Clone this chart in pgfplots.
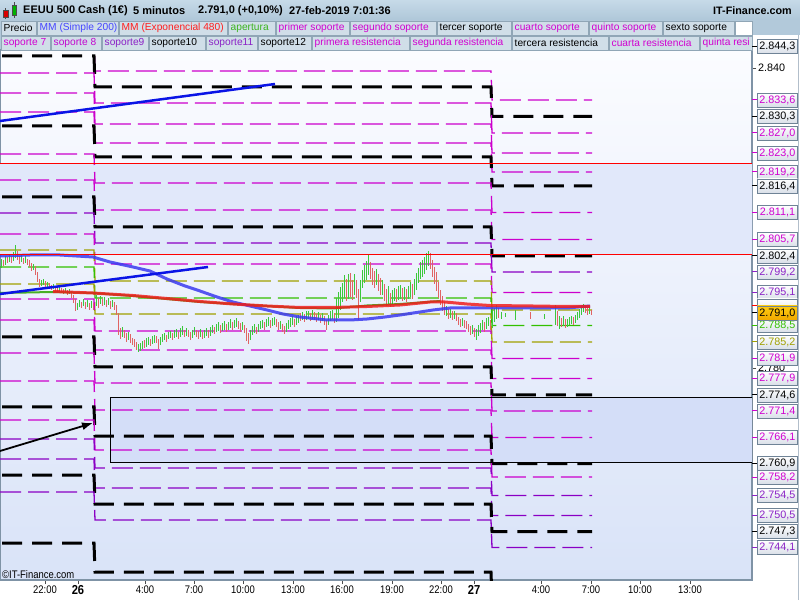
\documentclass[border=0pt]{standalone}
\usepackage{fontspec}
\setmainfont{Liberation Sans}
\newfontfamily\narrowfont[FakeStretch=0.86]{Liberation Sans}
\usepackage{pgfplots}
\usepackage{pgfplotstable}
\pgfplotsset{compat=1.18}
\usetikzlibrary{arrows.meta}

\definecolor{mag}{HTML}{CC00CC}
\definecolor{pur}{HTML}{8A00C4}
\definecolor{oli}{HTML}{A0A000}
\definecolor{grn}{HTML}{33C000}
\definecolor{cgreen}{HTML}{3CC83C}
\definecolor{cred}{HTML}{E06464}
\definecolor{frame}{HTML}{7F93A6}
\definecolor{hdrtop}{HTML}{C6DAE8}
\definecolor{hdrbot}{HTML}{AFC7D9}
\definecolor{hdr}{HTML}{B2C9DA}
\definecolor{hdrbox}{HTML}{D0DEE8}
\definecolor{hbord}{HTML}{90A6B6}
\definecolor{bgtop}{HTML}{FBFCFF}
\definecolor{bgbot}{HTML}{D9E3F8}
\definecolor{band}{HTML}{E1E8FA}
\definecolor{rectc}{HTML}{D4DEF8}
\definecolor{mablue}{HTML}{3A3AF0}
\definecolor{tlblue}{HTML}{0A14E6}
\definecolor{mared}{HTML}{F01E1E}
\definecolor{lblbot}{HTML}{D9DFE8}
\definecolor{lblframe}{HTML}{6F8396}
\definecolor{lmag}{HTML}{D000D0}
\definecolor{lpur}{HTML}{8B22C6}
\definecolor{hblue}{HTML}{4646FF}
\definecolor{hred}{HTML}{FF1E1E}
\definecolor{hgreen}{HTML}{3CB41E}
\definecolor{priceA}{HTML}{FFCC10}
\definecolor{priceB}{HTML}{F0A800}

% candles: x, low, high
\pgfplotstableread{
x lo hi
1 2800.0 2801.8
5 2800.6 2802.4
9 2801.2 2802.6
13 2801.4 2803.2
15 2802.0 2804.6
21 2801.2 2802.6
25 2801.0 2802.4
33 2799.6 2800.8
41 2796.4 2797.6
43 2796.6 2797.8
47 2796.2 2797.2
53 2795.8 2796.8
59 2795.4 2796.4
65 2795.0 2796.0
69 2794.8 2795.8
77 2791.6 2793.0
79 2792.2 2793.6
83 2792.4 2793.8
87 2792.2 2793.6
91 2792.0 2793.4
96 2792.4 2794.6
100 2792.8 2794.4
104 2792.6 2794.2
108 2792.6 2794.0
112 2792.2 2793.6
122 2786.2 2788.2
128 2785.6 2787.2
138 2783.2 2784.8
140 2783.4 2785.0
142 2783.8 2785.4
146 2784.2 2786.0
148 2784.6 2786.2
152 2784.8 2786.4
154 2785.0 2786.6
160 2784.6 2786.2
162 2785.2 2786.8
164 2785.6 2787.0
168 2785.8 2787.2
170 2786.0 2787.4
174 2786.0 2787.6
176 2786.2 2787.8
180 2786.2 2788.0
182 2786.6 2788.4
186 2786.4 2788.0
192 2786.0 2787.6
194 2786.6 2788.2
200 2786.2 2787.8
204 2786.0 2787.6
206 2786.4 2788.0
210 2786.4 2788.2
212 2787.0 2788.6
216 2787.2 2788.8
218 2787.4 2789.2
222 2787.4 2789.0
224 2787.6 2789.4
228 2787.6 2789.2
230 2788.0 2789.8
234 2788.0 2789.6
236 2788.2 2790.0
242 2787.6 2789.2
250 2785.6 2787.6
252 2786.6 2788.4
254 2787.0 2788.8
258 2787.2 2788.8
260 2787.8 2789.4
262 2788.0 2789.6
266 2788.2 2789.8
268 2788.4 2790.2
272 2788.4 2790.0
274 2788.6 2790.2
280 2787.8 2789.4
286 2787.2 2789.0
288 2787.8 2789.6
290 2788.2 2790.0
292 2788.6 2790.4
296 2788.6 2790.4
298 2789.0 2790.6
302 2789.6 2791.2
306 2789.6 2791.4
308 2789.8 2791.4
312 2789.8 2791.6
318 2789.6 2791.2
322 2789.4 2791.0
328 2788.6 2790.6
330 2789.4 2791.4
332 2789.8 2791.6
336 2789.2 2794.0
338 2790.0 2795.2
340 2791.6 2796.2
342 2793.2 2797.0
344 2794.0 2798.6
348 2793.8 2798.8
354 2794.6 2798.8
360 2793.2 2797.6
362 2796.0 2799.6
364 2797.0 2800.6
366 2797.6 2801.4
368 2798.6 2802.6
376 2796.6 2799.8
382 2794.6 2797.6
388 2792.8 2796.4
392 2792.8 2795.6
394 2793.4 2796.0
398 2793.6 2796.4
400 2793.8 2796.6
404 2793.6 2796.2
408 2793.8 2796.4
410 2794.2 2797.2
414 2794.6 2797.8
416 2795.6 2799.0
418 2797.0 2800.0
420 2797.8 2801.2
422 2798.2 2801.6
424 2798.8 2802.2
426 2799.6 2803.0
428 2800.4 2803.4
446 2790.4 2792.4
450 2790.0 2791.8
454 2789.8 2791.4
462 2788.4 2790.0
472 2786.8 2788.6
476 2785.6 2787.8
478 2786.4 2788.6
480 2787.0 2789.0
482 2787.6 2789.6
486 2787.8 2790.0
488 2788.4 2790.2
492 2788.0 2791.6
494 2789.2 2792.0
496 2789.8 2792.6
501 2789.8 2791.2
505 2790.2 2791.0
515 2789.6 2791.6
544 2789.8 2790.8
555 2788.6 2792.6
559 2787.8 2790.4
563 2788.4 2790.4
567 2788.2 2789.8
569 2788.6 2790.2
571 2788.8 2790.4
575 2789.0 2790.6
577 2789.6 2791.2
579 2790.0 2791.8
581 2790.6 2792.4
583 2791.2 2792.8
589 2790.8 2792.2
}\tgreen

\pgfplotstableread{
x lo hi
3 2800.4 2801.6
7 2801.0 2802.2
11 2801.0 2802.4
17 2801.6 2803.4
19 2800.8 2802.4
23 2800.8 2802.0
27 2800.6 2801.8
29 2800.2 2801.6
31 2799.4 2801.0
35 2798.6 2800.4
37 2797.2 2799.2
39 2796.2 2797.8
45 2796.0 2797.4
49 2795.8 2797.0
51 2795.6 2796.6
55 2795.4 2796.4
57 2795.2 2796.2
61 2795.0 2796.0
63 2794.8 2795.8
67 2794.6 2795.6
71 2794.0 2795.4
73 2793.0 2794.6
75 2791.4 2793.8
81 2792.0 2793.2
85 2791.8 2793.2
89 2791.6 2793.0
93 2791.6 2793.0
98 2792.0 2794.0
102 2792.4 2793.8
106 2792.2 2793.6
110 2791.8 2793.4
114 2791.6 2793.2
116 2790.6 2792.6
118 2786.6 2791.0
120 2785.8 2788.0
124 2786.0 2787.6
126 2785.2 2787.0
130 2785.0 2786.8
132 2784.6 2786.0
134 2784.2 2785.8
136 2783.6 2785.2
144 2784.0 2785.6
150 2784.4 2785.8
156 2785.0 2786.4
158 2783.8 2785.8
166 2785.2 2786.6
172 2785.6 2787.0
178 2785.8 2787.2
184 2786.2 2787.6
188 2786.2 2787.6
190 2785.6 2787.2
196 2786.2 2787.6
198 2785.8 2787.4
202 2785.8 2787.2
208 2786.0 2787.6
214 2786.8 2788.2
220 2787.0 2788.6
226 2787.2 2788.8
232 2787.6 2789.2
238 2787.8 2789.4
240 2787.2 2789.0
244 2787.0 2788.6
246 2785.4 2788.0
248 2784.8 2787.0
256 2786.8 2788.2
264 2787.6 2789.2
270 2788.0 2789.6
276 2788.2 2789.8
278 2787.6 2789.2
282 2787.2 2788.8
284 2786.8 2788.4
294 2788.2 2789.8
300 2789.4 2791.0
304 2789.2 2790.8
310 2789.4 2791.0
314 2789.6 2791.2
316 2789.2 2790.8
320 2789.0 2790.6
324 2788.6 2790.4
326 2787.6 2789.6
334 2789.0 2791.0
346 2793.4 2797.8
350 2794.2 2799.0
352 2793.6 2797.6
356 2794.0 2797.6
358 2789.6 2795.8
370 2797.8 2801.2
372 2796.6 2800.0
374 2796.0 2799.4
378 2795.4 2798.8
380 2794.6 2798.0
384 2793.4 2796.8
386 2792.4 2795.8
390 2792.2 2795.0
396 2793.2 2795.8
402 2793.4 2796.0
406 2793.2 2795.8
412 2793.8 2796.8
430 2799.8 2803.0
432 2798.2 2801.6
434 2796.8 2800.2
436 2795.4 2799.2
438 2794.0 2797.2
440 2792.6 2795.6
442 2791.4 2794.4
444 2790.6 2793.2
448 2789.8 2791.8
452 2789.6 2791.4
456 2789.4 2791.0
458 2788.6 2790.2
460 2788.2 2789.8
464 2788.0 2789.6
466 2787.8 2789.4
468 2787.2 2788.8
470 2786.6 2788.4
474 2786.2 2788.0
484 2787.2 2789.2
490 2787.6 2789.6
498 2790.0 2792.0
530 2789.8 2791.2
557 2788.4 2791.4
561 2788.2 2790.0
565 2788.0 2789.8
573 2788.6 2790.2
585 2791.0 2792.6
587 2790.6 2792.2
591 2790.6 2791.6
}\tred

\tikzset{
 lvK/.style={black, line width=3pt, dash pattern=on 20pt off 10pt, dash phase=28pt},
 lvM/.style={mag, line width=1.3pt, dash pattern=on 21pt off 7pt},
 lvP/.style={pur, line width=1.3pt, dash pattern=on 21pt off 7pt},
 lvO/.style={oli, line width=1.3pt, dash pattern=on 21pt off 7pt},
 lvG/.style={grn, line width=1.3pt, dash pattern=on 21pt off 7pt},
 lblfill/.style={top color=white, bottom color=lblbot},
 pricefill/.style={top color=priceA, bottom color=priceB},
}

\newcommand{\lev}[4]{\addplot[#1] coordinates {(0,#2)(94,#2)(95,#3)(491,#3)(492,#4)(592,#4)};}

\newcommand{\rlab}[4]{%
  \pgfmathsetmacro{\yy}{20+(#1-2737.6)*5}%
  \draw[#2, line width=1pt] (752,\yy) -- (757,\yy);%
  \node[draw=lblframe, line width=0.8pt, #4, text=#2, inner sep=0pt, minimum width=40pt, minimum height=14pt, anchor=west, font=\fontsize{10.8}{11}\selectfont] at (757,\yy) {#3};%
}

\newcommand{\hitem}[5]{%
  \draw[draw=hbord, fill=hdrbox, line width=0.8pt] (#1,#3-7) rectangle (#2,#3+7);%
  \node[anchor=west, inner sep=0pt, text=#4, font=\fontsize{10.2}{10}\selectfont] at (#1+2.5,#3) {#5};%
}

\begin{document}
\begin{tikzpicture}[x=1pt,y=1pt]
\useasboundingbox (0,0) rectangle (800,600);
\fill[white] (0,0) rectangle (800,600);
\fill[top color=hdrtop, bottom color=hdrbot] (0,580) rectangle (800,600);
\fill[hdr] (0,550) rectangle (800,580);
\fill[white] (752,0) rectangle (800,565);
\draw[frame!60, line width=0.8pt] (798,0) -- (798,565);

\begin{axis}[
  at={(0pt,20pt)}, anchor=south west, scale only axis,
  width=752pt, height=530pt,
  xmin=0, xmax=752, ymin=2737.6, ymax=2843.6,
  axis line style={draw=frame, line width=1.6pt},
  axis background/.style={top color=bgtop, bottom color=bgbot},
  xtick={45,78,145,194,243,293,342,392,441,474,541,591,640,690},
  xticklabels={22:00,{\fontsize{13}{13}\selectfont\bfseries 26},4:00,7:00,10:00,13:00,16:00,19:00,22:00,{\fontsize{13}{13}\selectfont\bfseries 27},4:00,7:00,10:00,13:00},
  xtick pos=lower, ytick pos=upper, yticklabel pos=upper,
  tick align=outside, major tick length=4pt,
  tick style={draw=black!70, line width=0.6pt},
  ytick={2840,2780}, scaled y ticks=false,
  yticklabel style={font=\fontsize{10.8}{11}\selectfont, anchor=west, inner sep=2pt,
     /pgf/number format/.cd, fixed, precision=0, 1000 sep={.}, assume math mode=true},
  xticklabel style={font=\narrowfont\fontsize{11}{11}\selectfont, inner sep=1.5pt},
  /pgf/number format/assume math mode=true,
]
% zone between red lines and rectangle fill
\addplot[fill=band, draw=none, forget plot] coordinates {(0,2802.6)(752,2802.6)(752,2820.8)(0,2820.8)(0,2802.6)};
\addplot[fill=rectc, draw=none, forget plot] coordinates {(110,2774.0)(752,2774.0)(752,2761.2)(110,2761.2)(110,2774.0)};

% support / resistance levels (segments: day 25, day 26, day 27)
\lev{lvM}{2846.0}{2839.4}{2833.6}
\lev{lvK}{2842.4}{2836.2}{2830.3}
\lev{lvM}{2839.0}{2833.0}{2827.0}
\lev{lvM}{2835.0}{2828.8}{2823.0}
\lev{lvM}{2831.2}{2825.0}{2819.2}
\lev{lvK}{2828.4}{2822.2}{2816.4}
\lev{lvM}{2822.8}{2817.0}{2811.1}
\lev{lvM}{2817.6}{2811.6}{2805.7}
\lev{lvK}{2814.2}{2808.2}{2802.4}
\lev{lvP}{2811.0}{2805.0}{2799.2}
\lev{lvM}{2806.8}{2800.8}{2795.1}
\lev{lvO}{2803.6}{2797.4}{2791.6}
\lev{lvG}{2800.2}{2794.0}{2788.5}
\lev{lvO}{2796.8}{2790.8}{2785.2}
\lev{lvM}{2793.8}{2787.4}{2781.9}
\lev{lvM}{2789.6}{2783.6}{2777.9}
\lev{lvK}{2786.2}{2780.2}{2774.6}
\lev{lvM}{2783.0}{2777.0}{2771.4}
\lev{lvM}{2777.4}{2771.6}{2766.1}
\lev{lvK}{2772.2}{2766.4}{2760.9}
\lev{lvM}{2769.6}{2763.6}{2758.2}
\lev{lvP}{2765.8}{2760.0}{2754.5}
\lev{lvP}{2761.8}{2756.0}{2750.5}
\lev{lvK}{2758.6}{2752.8}{2747.3}
\lev{lvP}{2755.2}{2749.6}{2744.1}
\lev{lvK}{2745.0}{2739.2}{2733.5}

% candles (low to high)
\addplot[draw=none, mark=none, error bars/.cd, y dir=plus, y explicit, error mark=none,
  error bar style={draw=cgreen, line width=0.9pt}]
  table[x=x, y=lo, y error expr=\thisrow{hi}-\thisrow{lo}] {\tgreen};
\addplot[draw=none, mark=none, error bars/.cd, y dir=plus, y explicit, error mark=none,
  error bar style={draw=cred, line width=0.9pt}]
  table[x=x, y=lo, y error expr=\thisrow{hi}-\thisrow{lo}] {\tred};

% green line
\addplot[grn!85!black, line width=2pt, opacity=0.85] coordinates {(0,2795.0)(53,2795.2)(93,2795.0)(133,2794.4)(200,2793.2)(267,2792.4)(300,2792.0)(333,2791.9)(367,2792.5)(400,2792.8)(427,2793.2)(440,2793.4)};
% MM Simple 200
\addplot[mablue, line width=3pt, opacity=0.85] coordinates {(0,2802.4)(30,2802.6)(60,2802.6)(93,2802.2)(110,2801.2)(133,2800.2)(150,2799.4)(167,2797.8)(185,2796.4)(200,2795.4)(217,2794.2)(233,2793.2)(250,2792.4)(267,2791.6)(283,2790.8)(300,2790.2)(327,2789.6)(350,2789.6)(367,2789.8)(385,2790.2)(400,2790.6)(420,2791.2)(433,2791.6)(450,2792.0)(490,2792.0)(530,2792.0)(567,2792.0)(590,2792.4)};
% MM Exponencial 480
\addplot[mared, line width=3pt, opacity=0.85] coordinates {(53,2795.3)(93,2795.0)(133,2794.5)(167,2793.9)(200,2793.3)(233,2792.8)(267,2792.4)(300,2792.1)(333,2792.1)(367,2792.3)(400,2792.6)(430,2793.2)(445,2793.2)(467,2792.8)(490,2792.5)(533,2792.4)(567,2792.3)(590,2792.3)};

% trend lines
\addplot[tlblue, line width=2.5pt] coordinates {(0,2829.4)(275,2836.8)};
\addplot[tlblue, line width=2.5pt] coordinates {(0,2794.8)(208,2800.2)};
\addplot[black, line width=1.8pt, -{Latex[length=11pt,width=8pt]}] coordinates {(0,2763.4)(93,2769.0)};

% horizontal red lines and rectangle border
\addplot[red, line width=1pt] coordinates {(0,2820.8)(752,2820.8)};
\addplot[red, line width=1pt] coordinates {(0,2802.6)(752,2802.6)};
\addplot[black, line width=1pt] coordinates {(110,2774.0)(752,2774.0)(752,2761.2)(110,2761.2)(110,2774.0)};
\end{axis}

\node[anchor=west, inner sep=0pt, font=\narrowfont\fontsize{11}{11}\selectfont] at (2,25) {©IT-Finance.com};

% header row 1
\draw[black!70, line width=0.6pt] (5.5,581) -- (5.5,592);
\draw[fill=red!85!black, draw=black!70, line width=0.5pt] (3,583) rectangle (8,590);
\draw[black!70, line width=0.6pt] (14,582) -- (14,598);
\draw[fill=green!70!black, draw=black!70, line width=0.5pt] (12,585) rectangle (16.5,595);
\begin{scope}[every node/.style={anchor=west, inner sep=0pt, font=\fontsize{11}{12}\selectfont\bfseries}]
\node at (23,589) {EEUU 500 Cash (1€)};
\node at (133,589) {5 minutos};
\node at (198,589) {2.791,0 (+0,10\%)};
\node at (289,589) {27-feb-2019 7:01:36};
\node[anchor=east, font=\fontsize{10.8}{11}\selectfont\bfseries] at (792,589) {IT-Finance.com};
\end{scope}

% header row 2
\hitem{1}{36}{572}{black}{Precio}
\hitem{37}{118}{572}{hblue}{MM (Simple 200)}
\hitem{119}{227}{572}{hred}{MM (Exponencial 480)}
\hitem{228}{275}{572}{hgreen}{apertura}
\hitem{276}{349}{572}{lmag}{primer soporte}
\hitem{350}{436}{572}{lmag}{segundo soporte}
\hitem{437}{511}{572}{black}{tercer soporte}
\hitem{512}{588}{572}{lmag}{cuarto soporte}
\hitem{589}{662}{572}{lmag}{quinto soporte}
\hitem{663}{734}{572}{black}{sexto soporte}
\draw[draw=hbord, fill=white, line width=0.8pt] (735,565) rectangle (752,579);
% header row 3
\hitem{1}{50}{557}{lmag}{soporte 7}
\hitem{51}{101}{557}{lmag!80!lpur}{soporte 8}
\hitem{102}{148}{557}{lpur}{soporte9}
\hitem{149}{205}{557}{black}{soporte10}
\hitem{206}{257}{557}{lpur}{soporte11}
\hitem{258}{311}{557}{black}{soporte12}
\hitem{312}{409}{557}{lmag}{primera resistencia}
\hitem{410}{511}{557}{lmag}{segunda resistencia}
\hitem{512}{608}{557}{black}{tercera resistencia}
\hitem{609}{699}{557}{lmag}{cuarta resistencia}
\hitem{700}{752}{557}{lmag}{quinta resi}

% right-hand price labels
\rlab{2844.3}{black}{2.844,3}{lblfill}
\rlab{2833.6}{lmag}{2.833,6}{lblfill}
\rlab{2830.3}{black}{2.830,3}{lblfill}
\rlab{2827.0}{lmag}{2.827,0}{lblfill}
\rlab{2823.0}{lmag}{2.823,0}{lblfill}
\rlab{2819.2}{lmag}{2.819,2}{lblfill}
\rlab{2816.4}{black}{2.816,4}{lblfill}
\rlab{2811.1}{lmag}{2.811,1}{lblfill}
\rlab{2805.7}{lmag}{2.805,7}{lblfill}
\rlab{2802.4}{black}{2.802,4}{lblfill}
\rlab{2799.2}{lpur}{2.799,2}{lblfill}
\rlab{2795.1}{lpur}{2.795,1}{lblfill}
\rlab{2792.4}{red}{}{lblfill}
\rlab{2788.5}{grn}{2.788,5}{lblfill}
\rlab{2785.2}{oli}{2.785,2}{lblfill}
\rlab{2781.9}{lmag}{2.781,9}{lblfill}
\rlab{2777.9}{lmag}{2.777,9}{lblfill}
\rlab{2774.6}{black}{2.774,6}{lblfill}
\rlab{2771.4}{lmag}{2.771,4}{lblfill}
\rlab{2766.1}{lmag}{2.766,1}{lblfill}
\rlab{2760.9}{black}{2.760,9}{lblfill}
\rlab{2758.2}{lmag}{2.758,2}{lblfill}
\rlab{2754.5}{lpur}{2.754,5}{lblfill}
\rlab{2750.5}{lpur}{2.750,5}{lblfill}
\rlab{2747.3}{black}{2.747,3}{lblfill}
\rlab{2744.1}{lpur}{2.744,1}{lblfill}
\rlab{2791.0}{black}{2.791,0}{pricefill}
\end{tikzpicture}
\end{document}
